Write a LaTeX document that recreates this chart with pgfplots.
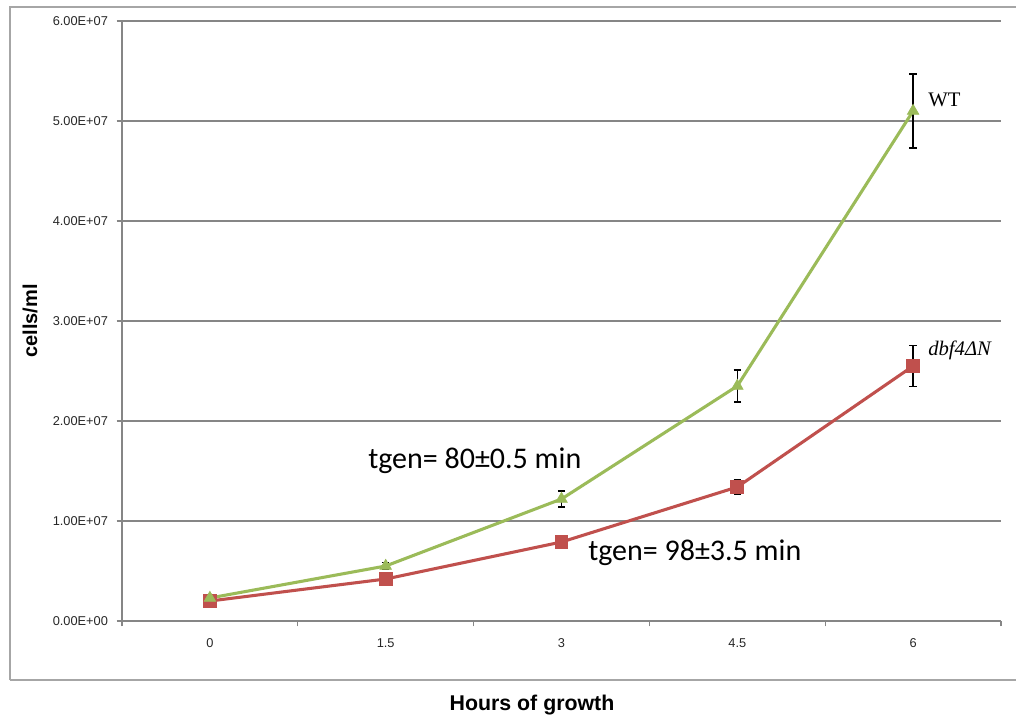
\documentclass[border=0pt]{standalone}
\usepackage{pgfplots}
\pgfplotsset{compat=1.18}
\usepackage{fontspec}
\setmainfont{Liberation Sans}
\newfontfamily\calibri{Carlito}
\newfontfamily\tnr{Liberation Serif}
\definecolor{wtgreen}{RGB}{155,187,89}
\definecolor{mutred}{RGB}{192,80,77}
\definecolor{gridgray}{RGB}{134,134,134}
\begin{document}
\begin{tikzpicture}
\path[use as bounding box] (0,0) rectangle (762pt,541.5pt);
\draw[gray!70, line width=1.5pt] (7.5pt,31.5pt) -- (7.5pt,536.25pt) -- (775pt,536.25pt);
\draw[gray!70, line width=1.5pt] (7.5pt,31.5pt) -- (775pt,31.5pt);
\begin{axis}[
  at={(91.5pt,75.75pt)}, anchor=south west,
  scale only axis, width=659.25pt, height=450pt,
  xmin=-0.5, xmax=4.5, ymin=0, ymax=6e7,
  axis lines=left, axis line style={-, gridgray, line width=0.9pt},
  xtick={0,1,2,3,4}, xticklabels={0,1.5,3,4.5,6},
  major x tick style={draw=none},
  minor xtick={-0.5,0.5,1.5,2.5,3.5,4.5},
  minor x tick style={gridgray, line width=0.9pt},
  minor tick length=4pt,
  ytick={0,1e7,2e7,3e7,4e7,5e7,6e7},
  yticklabels={0.00E+00,1.00E+07,2.00E+07,3.00E+07,4.00E+07,5.00E+07,6.00E+07},
  scaled y ticks=false,
  major y tick style={gridgray, line width=0.9pt},
  major tick length=4pt,
  tick align=outside,
  ymajorgrids, grid style={gridgray, line width=0.9pt},
  tick label style={font=\fontsize{9.6}{11}\selectfont, text=black!85},
  xticklabel style={yshift=-6pt},
  yticklabel style={xshift=-3pt},
  clip=false,
]
\addplot[mutred, line width=2.3pt, mark=square*, mark size=4pt,
  mark options={solid, fill=mutred, draw=mutred},
  error bars/.cd, y dir=both, y explicit,
  error bar style={black, line width=1.2pt},
  error mark options={black, line width=1.2pt, mark size=2.8pt, rotate=90}]
  coordinates {
  (0,2.0e6) +- (0,0.15e6)
  (1,4.2e6) +- (0,0.15e6)
  (2,7.9e6) +- (0,0.4e6)
  (3,1.34e7) +- (0,0.7e6)
  (4,2.55e7) +- (0,2.05e6)
  };
\addplot[wtgreen, line width=2.3pt, mark=triangle*, mark size=5pt,
  mark options={solid, fill=wtgreen, draw=wtgreen, line width=0.5pt},
  error bars/.cd, y dir=both, y explicit,
  error bar style={black, line width=1.2pt},
  error mark options={black, line width=1.2pt, mark size=2.8pt, rotate=90}]
  coordinates {
  (0,2.3e6) +- (0,0.2e6)
  (1,5.5e6) +- (0,0.35e6)
  (2,1.22e7) +- (0,0.8e6)
  (3,2.35e7) +- (0,1.6e6)
  (4,5.1e7) +- (0,3.7e6)
  };
\end{axis}
\node[anchor=base west, inner sep=0pt, font=\calibri\fontsize{22.5}{26}\selectfont] at (276pt,190.5pt) {tgen= 80±0.5 min};
\node[anchor=base west, inner sep=0pt, font=\calibri\fontsize{22.5}{26}\selectfont] at (441pt,121.5pt) {tgen= 98±3.5 min};
\node[anchor=base west, inner sep=0pt, font=\tnr\fontsize{15.5}{18}\selectfont] at (696pt,461.25pt) {WT};
\node[anchor=base west, inner sep=0pt, font=\tnr\itshape\fontsize{15.5}{18}\selectfont] at (696pt,275.25pt) {dbf4ΔN};
\node[rotate=90, inner sep=0pt, font=\bfseries\fontsize{15}{18}\selectfont] at (22.5pt,300.75pt) {cells/ml};
\node[inner sep=0pt, font=\bfseries\fontsize{16}{19}\selectfont] at (399pt,12.75pt) {Hours of growth};
\end{tikzpicture}
\end{document}
